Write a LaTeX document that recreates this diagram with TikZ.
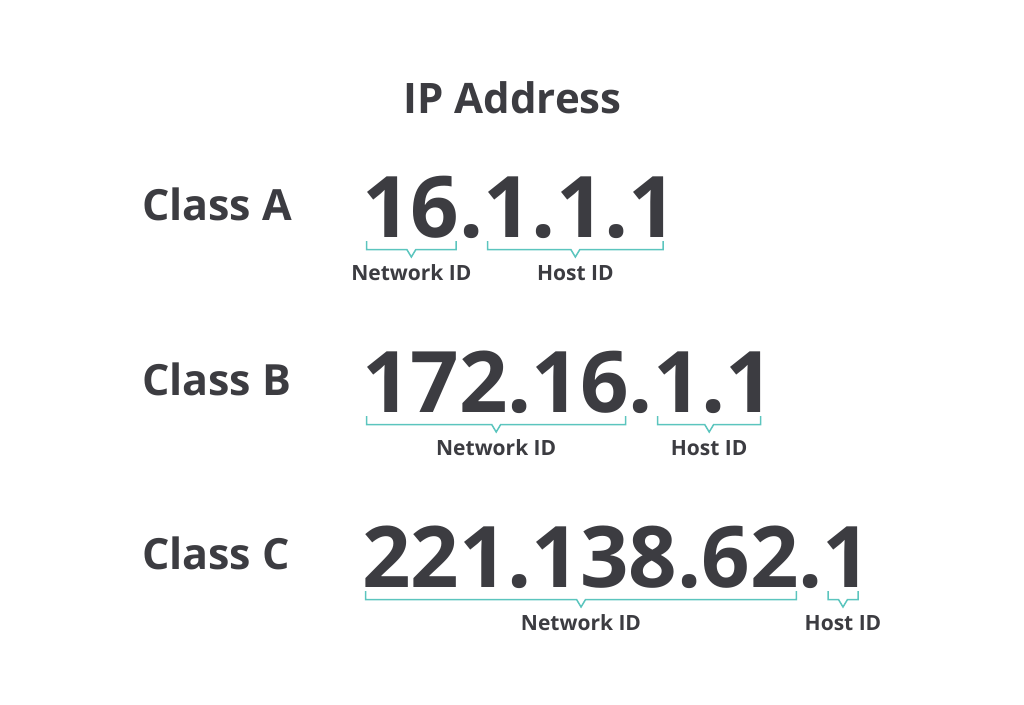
\documentclass[tikz,border=0pt]{standalone}
\usepackage{fontspec}
\setmainfont{Open Sans}
\definecolor{ink}{HTML}{3C3C41}
\definecolor{tealb}{HTML}{5BC5BE}
\newcommand\ipbr[4]{% name, left, right, top
  \pgfmathsetmacro\bm{(#2+#3)/2}
  \pgfmathsetmacro\by{#4+8.5}
  \pgfmathsetmacro\bv{#4+16}
  \coordinate (#1-l) at (#2,#4);
  \coordinate (#1-r) at (#3,#4);
  \draw[bracebox] (#1-l) -- (#2,\by) -- (\bm-4.5,\by) -- (\bm,\bv) -- (\bm+4.5,\by) -- (#3,\by) -- (#1-r);}
\begin{document}
\begin{tikzpicture}[x=1pt,y=-1pt,
  txt/.style={text=ink, inner sep=0pt, outer sep=0pt},
  title/.style={txt, font=\fontsize{42}{42}\selectfont\bfseries, anchor=base},
  cls/.style={txt, font=\fontsize{43}{43}\selectfont\bfseries, anchor=base west},
  big/.style={txt, font=\fontsize{85}{85}\selectfont\bfseries, anchor=base west},
  idl/.style={txt, font=\fontsize{21}{21}\selectfont\bfseries, anchor=base},
  bracebox/.style={draw=tealb, line width=1.5pt, line join=miter}]
\useasboundingbox[fill=white] (0,0) rectangle (1024,704);

\node[title] (title) at (512.5,113) {IP Address};

\node[cls] (clA) at (142,220) {Class A};
\node[cls] (clB) at (142,395) {Class B};
\node[cls] (clC) at (142,569) {Class C};

\node[big] (ipA) at (362,237) {16.1.1.1};
\node[big] (ipB) at (362,412) {172.16.1.1};
\node[big] (ipC) at (362,587) {221.138.62.1};

\ipbr{bAn}{366.7}{456}{241}
\ipbr{bAh}{487.7}{663}{241}
\ipbr{bBn}{366.7}{625.7}{416}
\ipbr{bBh}{657.7}{760.7}{416}
\ipbr{bCn}{365.7}{796.4}{591}
\ipbr{bCh}{828}{858}{591}

\node[idl] (nA) at (411.4,280.7) {Network ID};
\node[idl] (hA) at (575.4,280.7) {Host ID};
\node[idl] (nB) at (496.2,455) {Network ID};
\node[idl] (hB) at (709.2,455) {Host ID};
\node[idl] (nC) at (581,630) {Network ID};
\node[idl] (hC) at (843,630) {Host ID};
\end{tikzpicture}
\end{document}
